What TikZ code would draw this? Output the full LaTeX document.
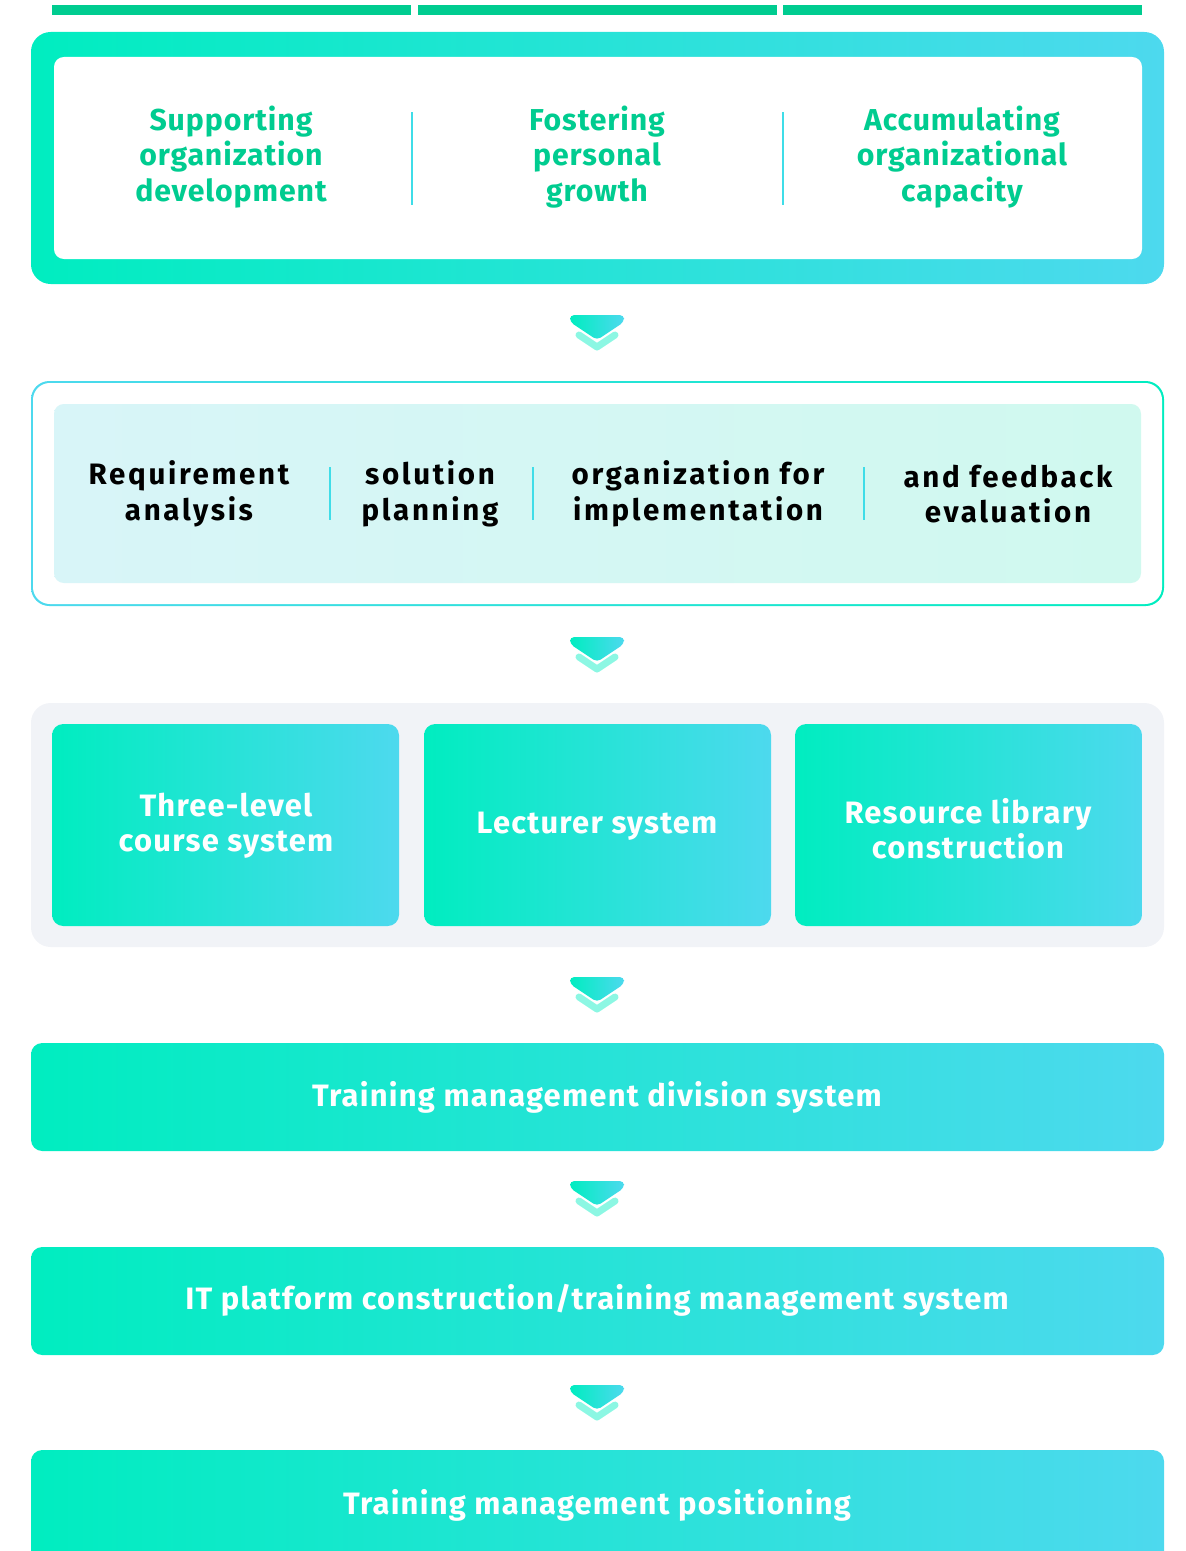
\documentclass[tikz,border=0pt]{standalone}
\usepackage{fontspec}
\setmainfont{Fira Sans}
\usetikzlibrary{positioning}
\definecolor{gradA}{HTML}{00EDC0}
\definecolor{gradB}{HTML}{4DD9EE}
\definecolor{headgreen}{HTML}{00CC90}
\definecolor{sepcyan}{HTML}{3FDDE8}
\definecolor{paleA}{HTML}{D8F5F8}
\definecolor{paleB}{HTML}{D0F9EF}
\definecolor{panelgray}{HTML}{F1F3F7}
\tikzset{
  gradfill/.style={left color=gradA, right color=gradB},
  sepline/.style={draw=sepcyan, line width=1.6pt},
  goaltext/.style={align=center, text=headgreen,
    font=\fontsize{21.5}{25}\selectfont\bfseries\addfontfeatures{LetterSpace=3}},
  steptext/.style={align=center, text=black,
    font=\fontsize{21}{25.5}\selectfont\bfseries\addfontfeatures{LetterSpace=9}},
  whitetext/.style={align=center, text=white,
    font=\fontsize{22}{25}\selectfont\bfseries\addfontfeatures{LetterSpace=4}},
  chevron/.pic={
    \draw [gradA!45!white, line width=5pt, line cap=round, line join=round]
      (-18,20) -- (0,32) -- (18,20);
    \path [gradfill, rounded corners=3pt]
      (-27,0) -- (27,0) -- (27,7) -- (0,25) -- (-27,7) -- cycle;
  }
}
\begin{document}
\begin{tikzpicture}[x=0.025cm, y=-0.025cm]
    % canvas
    \useasboundingbox (0,0) rectangle (1185,1551);
    \clip (0,0) rectangle (1185,1551);
    % header bars
    \foreach \xa/\xb in {52/411, 418/777, 783/1142}
        \fill [headgreen] (\xa,5) rectangle (\xb,15);
    % goals frame
    \path [gradfill, rounded corners=14pt] (31,32) rectangle (1164,284);
    \fill [white, rounded corners=7pt] (54,57) rectangle (1142,259);
    \node [goaltext] (support) at (231,157) {Supporting\\organization\\development};
    \node [goaltext] (foster) at (597,157) {Fostering\\personal\\growth};
    \node [goaltext] (accum) at (962,157) {Accumulating\\organizational\\capacity};
    \foreach \x in {412, 783}
        \draw [sepline] (\x,112) -- (\x,205);
    % arrow
    \pic at (597,315) {chevron};
    % process frame
    \path [left color=gradB, right color=gradA, rounded corners=13pt] (31,381) rectangle (1164,606);
    \fill [white, rounded corners=12pt] (33,383) rectangle (1162,604);
    \path [left color=paleA, right color=paleB, rounded corners=7pt] (54,404) rectangle (1141,583);
    \node [steptext] (analysis) at (189,494) {Requirement\\analysis};
    \node [steptext] (planning) at (430,494) {solution\\planning};
    \node [steptext] (organize) at (698,494) {organization for\\implementation};
    \node [steptext] (evaluate) at (1008,494) {and feedback\\evaluation};
    \foreach \x in {330, 533, 864}
        \draw [sepline] (\x,467) -- (\x,520);
    % arrow
    \pic at (597,637) {chevron};
    % systems panel
    \fill [panelgray, rounded corners=14pt] (31,703) rectangle (1164,947);
    \foreach \xa/\xb in {52/399, 424/771, 795/1142}
        \path [gradfill, rounded corners=8pt] (\xa,724) rectangle (\xb,926);
    \node [whitetext] (course) at (226,826) {Three-level\\course system};
    \node [whitetext] (lecturer) at (597,826) {Lecturer system};
    \node [whitetext] (library) at (968,829) {Resource library\\construction};
    % arrow
    \pic at (597,977) {chevron};
    % division system
    \path [gradfill, rounded corners=8pt] (31,1043) rectangle (1164,1151);
    \node [whitetext] (division) at (597,1097) {Training management division system};
    % arrow
    \pic at (597,1181) {chevron};
    % platform
    \path [gradfill, rounded corners=8pt] (31,1247) rectangle (1164,1355);
    \node [whitetext] (platform) at (597,1300) {IT platform construction/training management system};
    % arrow
    \pic at (597,1385) {chevron};
    % positioning
    \path [gradfill, rounded corners=8pt] (31,1450) rectangle (1164,1570);
    \node [whitetext] (position) at (597,1505) {Training management positioning};
\end{tikzpicture}
\end{document}
